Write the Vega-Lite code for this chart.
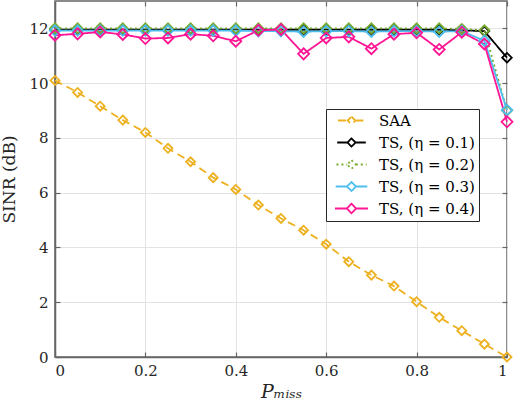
{
  "$schema": "https://vega.github.io/schema/vega-lite/v6.json",
  "width": 452,
  "height": 356,
  "autosize": {"type": "none"},
  "padding": {"left": 55, "top": 1, "right": 9, "bottom": 49},
  "background": "white",
  "config": {
    "font": "DejaVu Serif",
    "view": {"stroke": "#666666", "strokeWidth": 1.5},
    "axis": {
      "labelFont": "DejaVu Serif",
      "labelFontSize": 15,
      "labelColor": "#262626",
      "titleFont": "DejaVu Serif",
      "titleColor": "#262626",
      "titleFontWeight": "normal",
      "domainColor": "#666666",
      "domainWidth": 1.5,
      "tickColor": "#666666",
      "tickWidth": 1.2,
      "gridColor": "#e3e3e3",
      "gridWidth": 1
    }
  },
  "data": {
    "values": [
      {"p": 0.00, "sinr": 10.10, "series": "SAA"},
      {"p": 0.05, "sinr": 9.66, "series": "SAA"},
      {"p": 0.10, "sinr": 9.16, "series": "SAA"},
      {"p": 0.15, "sinr": 8.65, "series": "SAA"},
      {"p": 0.20, "sinr": 8.20, "series": "SAA"},
      {"p": 0.25, "sinr": 7.62, "series": "SAA"},
      {"p": 0.30, "sinr": 7.13, "series": "SAA"},
      {"p": 0.35, "sinr": 6.55, "series": "SAA"},
      {"p": 0.40, "sinr": 6.12, "series": "SAA"},
      {"p": 0.45, "sinr": 5.55, "series": "SAA"},
      {"p": 0.50, "sinr": 5.06, "series": "SAA"},
      {"p": 0.55, "sinr": 4.63, "series": "SAA"},
      {"p": 0.60, "sinr": 4.12, "series": "SAA"},
      {"p": 0.65, "sinr": 3.48, "series": "SAA"},
      {"p": 0.70, "sinr": 2.99, "series": "SAA"},
      {"p": 0.75, "sinr": 2.59, "series": "SAA"},
      {"p": 0.80, "sinr": 2.02, "series": "SAA"},
      {"p": 0.85, "sinr": 1.45, "series": "SAA"},
      {"p": 0.90, "sinr": 0.96, "series": "SAA"},
      {"p": 0.95, "sinr": 0.47, "series": "SAA"},
      {"p": 1.00, "sinr": 0.00, "series": "SAA"},

      {"p": 0.00, "sinr": 11.95, "series": "TS, (η = 0.1)"},
      {"p": 0.05, "sinr": 11.95, "series": "TS, (η = 0.1)"},
      {"p": 0.10, "sinr": 11.95, "series": "TS, (η = 0.1)"},
      {"p": 0.15, "sinr": 11.95, "series": "TS, (η = 0.1)"},
      {"p": 0.20, "sinr": 11.95, "series": "TS, (η = 0.1)"},
      {"p": 0.25, "sinr": 11.95, "series": "TS, (η = 0.1)"},
      {"p": 0.30, "sinr": 11.95, "series": "TS, (η = 0.1)"},
      {"p": 0.35, "sinr": 11.95, "series": "TS, (η = 0.1)"},
      {"p": 0.40, "sinr": 11.95, "series": "TS, (η = 0.1)"},
      {"p": 0.45, "sinr": 11.95, "series": "TS, (η = 0.1)"},
      {"p": 0.50, "sinr": 11.95, "series": "TS, (η = 0.1)"},
      {"p": 0.55, "sinr": 11.95, "series": "TS, (η = 0.1)"},
      {"p": 0.60, "sinr": 11.95, "series": "TS, (η = 0.1)"},
      {"p": 0.65, "sinr": 11.95, "series": "TS, (η = 0.1)"},
      {"p": 0.70, "sinr": 11.95, "series": "TS, (η = 0.1)"},
      {"p": 0.75, "sinr": 11.95, "series": "TS, (η = 0.1)"},
      {"p": 0.80, "sinr": 11.95, "series": "TS, (η = 0.1)"},
      {"p": 0.85, "sinr": 11.95, "series": "TS, (η = 0.1)"},
      {"p": 0.90, "sinr": 11.93, "series": "TS, (η = 0.1)"},
      {"p": 0.95, "sinr": 11.90, "series": "TS, (η = 0.1)"},
      {"p": 1.00, "sinr": 10.93, "series": "TS, (η = 0.1)"},

      {"p": 0.00, "sinr": 12.00, "series": "TS, (η = 0.2)"},
      {"p": 0.05, "sinr": 12.00, "series": "TS, (η = 0.2)"},
      {"p": 0.10, "sinr": 12.00, "series": "TS, (η = 0.2)"},
      {"p": 0.15, "sinr": 12.00, "series": "TS, (η = 0.2)"},
      {"p": 0.20, "sinr": 12.00, "series": "TS, (η = 0.2)"},
      {"p": 0.25, "sinr": 12.00, "series": "TS, (η = 0.2)"},
      {"p": 0.30, "sinr": 12.00, "series": "TS, (η = 0.2)"},
      {"p": 0.35, "sinr": 12.00, "series": "TS, (η = 0.2)"},
      {"p": 0.40, "sinr": 12.00, "series": "TS, (η = 0.2)"},
      {"p": 0.45, "sinr": 12.00, "series": "TS, (η = 0.2)"},
      {"p": 0.50, "sinr": 12.00, "series": "TS, (η = 0.2)"},
      {"p": 0.55, "sinr": 12.00, "series": "TS, (η = 0.2)"},
      {"p": 0.60, "sinr": 12.00, "series": "TS, (η = 0.2)"},
      {"p": 0.65, "sinr": 12.00, "series": "TS, (η = 0.2)"},
      {"p": 0.70, "sinr": 12.00, "series": "TS, (η = 0.2)"},
      {"p": 0.75, "sinr": 12.00, "series": "TS, (η = 0.2)"},
      {"p": 0.80, "sinr": 12.00, "series": "TS, (η = 0.2)"},
      {"p": 0.85, "sinr": 12.00, "series": "TS, (η = 0.2)"},
      {"p": 0.90, "sinr": 11.98, "series": "TS, (η = 0.2)"},
      {"p": 0.95, "sinr": 11.93, "series": "TS, (η = 0.2)"},
      {"p": 1.00, "sinr": 9.00, "series": "TS, (η = 0.2)"},

      {"p": 0.00, "sinr": 11.92, "series": "TS, (η = 0.3)"},
      {"p": 0.05, "sinr": 11.92, "series": "TS, (η = 0.3)"},
      {"p": 0.10, "sinr": 11.92, "series": "TS, (η = 0.3)"},
      {"p": 0.15, "sinr": 11.92, "series": "TS, (η = 0.3)"},
      {"p": 0.20, "sinr": 11.92, "series": "TS, (η = 0.3)"},
      {"p": 0.25, "sinr": 11.92, "series": "TS, (η = 0.3)"},
      {"p": 0.30, "sinr": 11.92, "series": "TS, (η = 0.3)"},
      {"p": 0.35, "sinr": 11.92, "series": "TS, (η = 0.3)"},
      {"p": 0.40, "sinr": 11.92, "series": "TS, (η = 0.3)"},
      {"p": 0.45, "sinr": 11.90, "series": "TS, (η = 0.3)"},
      {"p": 0.50, "sinr": 11.90, "series": "TS, (η = 0.3)"},
      {"p": 0.55, "sinr": 11.88, "series": "TS, (η = 0.3)"},
      {"p": 0.60, "sinr": 11.90, "series": "TS, (η = 0.3)"},
      {"p": 0.65, "sinr": 11.90, "series": "TS, (η = 0.3)"},
      {"p": 0.70, "sinr": 11.88, "series": "TS, (η = 0.3)"},
      {"p": 0.75, "sinr": 11.90, "series": "TS, (η = 0.3)"},
      {"p": 0.80, "sinr": 11.90, "series": "TS, (η = 0.3)"},
      {"p": 0.85, "sinr": 11.88, "series": "TS, (η = 0.3)"},
      {"p": 0.90, "sinr": 11.90, "series": "TS, (η = 0.3)"},
      {"p": 0.95, "sinr": 11.55, "series": "TS, (η = 0.3)"},
      {"p": 1.00, "sinr": 9.02, "series": "TS, (η = 0.3)"},

      {"p": 0.00, "sinr": 11.75, "series": "TS, (η = 0.4)"},
      {"p": 0.05, "sinr": 11.80, "series": "TS, (η = 0.4)"},
      {"p": 0.10, "sinr": 11.87, "series": "TS, (η = 0.4)"},
      {"p": 0.15, "sinr": 11.78, "series": "TS, (η = 0.4)"},
      {"p": 0.20, "sinr": 11.63, "series": "TS, (η = 0.4)"},
      {"p": 0.25, "sinr": 11.65, "series": "TS, (η = 0.4)"},
      {"p": 0.30, "sinr": 11.79, "series": "TS, (η = 0.4)"},
      {"p": 0.35, "sinr": 11.73, "series": "TS, (η = 0.4)"},
      {"p": 0.40, "sinr": 11.53, "series": "TS, (η = 0.4)"},
      {"p": 0.45, "sinr": 11.93, "series": "TS, (η = 0.4)"},
      {"p": 0.50, "sinr": 11.96, "series": "TS, (η = 0.4)"},
      {"p": 0.55, "sinr": 11.07, "series": "TS, (η = 0.4)"},
      {"p": 0.60, "sinr": 11.65, "series": "TS, (η = 0.4)"},
      {"p": 0.65, "sinr": 11.69, "series": "TS, (η = 0.4)"},
      {"p": 0.70, "sinr": 11.26, "series": "TS, (η = 0.4)"},
      {"p": 0.75, "sinr": 11.79, "series": "TS, (η = 0.4)"},
      {"p": 0.80, "sinr": 11.84, "series": "TS, (η = 0.4)"},
      {"p": 0.85, "sinr": 11.23, "series": "TS, (η = 0.4)"},
      {"p": 0.90, "sinr": 11.86, "series": "TS, (η = 0.4)"},
      {"p": 0.95, "sinr": 11.43, "series": "TS, (η = 0.4)"},
      {"p": 1.00, "sinr": 8.59, "series": "TS, (η = 0.4)"}
    ]
  },
  "resolve": {"axis": {"x": "independent", "y": "independent"}},
  "layer": [
    {
      "mark": {"type": "line", "clip": false},
      "encoding": {
        "x": {
          "field": "p", "type": "quantitative",
          "scale": {"domain": [0, 1], "nice": false, "zero": false},
          "axis": {
            "orient": "bottom",
            "title": "Pₘᵢₛₛ",
            "titleFontSize": 19,
            "titleFontStyle": "italic",
            "titlePadding": 4,
            "values": [0, 0.2, 0.4, 0.6, 0.8, 1],
            "format": "~g",
            "tickSize": -5,
            "labelPadding": 11,
            "grid": true
          }
        },
        "y": {
          "field": "sinr", "type": "quantitative",
          "scale": {"domain": [0, 13], "nice": false, "zero": false},
          "axis": {
            "orient": "left",
            "title": "SINR (dB)",
            "titleFontSize": 17,
            "titlePadding": 10,
            "values": [0, 2, 4, 6, 8, 10, 12],
            "tickSize": -5,
            "labelPadding": 12,
            "grid": true
          }
        },
        "color": {
          "field": "series", "type": "nominal",
          "scale": {
            "domain": ["SAA", "TS, (η = 0.1)", "TS, (η = 0.2)", "TS, (η = 0.3)", "TS, (η = 0.4)"],
            "range": ["#EDB120", "#000000", "#77AC30", "#4DBEEE", "#FF1493"]
          },
          "legend": {
            "title": null,
            "orient": "none",
            "legendX": 271,
            "legendY": 108,
            "fillColor": "white",
            "strokeColor": "#262626",
            "padding": 4,
            "labelFont": "DejaVu Serif",
            "labelFontSize": 15,
            "labelColor": "#000000",
            "symbolType": "M-3,0L-0.857,0M0.857,0L3,0M0,-0.857L0.857,0L0,0.857L-0.857,0Z",
            "symbolSize": 196,
            "symbolOffset": 14,
            "labelOffset": 20,
            "rowPadding": 5,
            "symbolFillColor": "transparent"
          }
        },
        "strokeDash": {
          "field": "series", "type": "nominal",
          "scale": {
            "domain": ["SAA", "TS, (η = 0.1)", "TS, (η = 0.2)", "TS, (η = 0.3)", "TS, (η = 0.4)"],
            "range": [[8, 5], [1, 0], [2, 3], [1, 0], [1, 0]]
          }
        },
        "strokeWidth": {
          "field": "series", "type": "nominal",
          "scale": {
            "domain": ["SAA", "TS, (η = 0.1)", "TS, (η = 0.2)", "TS, (η = 0.3)", "TS, (η = 0.4)"],
            "range": [1.8, 1.8, 3.2, 1.8, 1.8]
          }
        }
      }
    },
    {
      "mark": {"type": "point", "shape": "diamond", "filled": false, "clip": false, "opacity": 1},
      "encoding": {
        "x": {
          "field": "p", "type": "quantitative",
          "scale": {"domain": [0, 1], "nice": false, "zero": false},
          "axis": {
            "orient": "top", "title": null, "labels": false, "grid": false, "domain": false,
            "values": [0, 0.2, 0.4, 0.6, 0.8, 1], "tickSize": -5
          }
        },
        "y": {
          "field": "sinr", "type": "quantitative",
          "scale": {"domain": [0, 13], "nice": false, "zero": false},
          "axis": {
            "orient": "right", "title": null, "labels": false, "grid": false, "domain": false,
            "values": [0, 2, 4, 6, 8, 10, 12], "tickSize": -5
          }
        },
        "color": {
          "field": "series", "type": "nominal",
          "scale": {
            "domain": ["SAA", "TS, (η = 0.1)", "TS, (η = 0.2)", "TS, (η = 0.3)", "TS, (η = 0.4)"],
            "range": ["#EDB120", "#000000", "#77AC30", "#4DBEEE", "#FF1493"]
          }
        },
        "size": {
          "field": "series", "type": "nominal",
          "scale": {
            "domain": ["SAA", "TS, (η = 0.1)", "TS, (η = 0.2)", "TS, (η = 0.3)", "TS, (η = 0.4)"],
            "range": [81, 121, 150, 121, 110]
          },
          "legend": null
        },
        "strokeWidth": {
          "field": "series", "type": "nominal",
          "scale": {
            "domain": ["SAA", "TS, (η = 0.1)", "TS, (η = 0.2)", "TS, (η = 0.3)", "TS, (η = 0.4)"],
            "range": [1.8, 1.8, 3.2, 1.8, 1.8]
          }
        }
      }
    }
  ]
}
